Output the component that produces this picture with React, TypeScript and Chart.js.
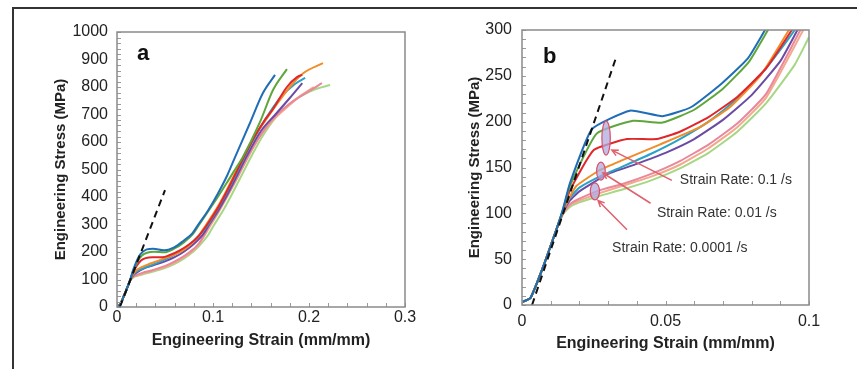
import React, { useEffect, useRef } from "react";
import { Chart, registerables } from "chart.js";
Chart.register(...registerables);

// ---------- data (strain mm/mm, stress MPa) ----------
const BLUE_STRAIN = [0, 0.003, 0.0073, 0.0115, 0.0143, 0.0167, 0.0244, 0.0376, 0.049, 0.059, 0.0697, 0.0787, 0.0847, 0.095, 0.105, 0.115, 0.123, 0.1385, 0.152, 0.1646];
const BLUE_STRESS = [3, 8, 41, 78, 105, 133, 192, 212, 206, 216, 242, 269, 300, 352, 412, 480, 545, 669, 778, 844];

const GREEN_STRAIN = [0, 0.003, 0.0073, 0.0115, 0.0143, 0.0167, 0.026, 0.0387, 0.049, 0.06, 0.07, 0.079, 0.0857, 0.095, 0.105, 0.115, 0.123, 0.131, 0.149, 0.1625, 0.177];
const GREEN_STRESS = [3, 8, 41, 78, 104, 130, 187, 201, 199, 213, 236, 265, 300, 348, 400, 455, 500, 545, 673, 789, 865];

const RED_STRAIN = [0, 0.003, 0.0073, 0.0115, 0.0143, 0.0167, 0.025, 0.0366, 0.047, 0.055, 0.065, 0.075, 0.085, 0.094, 0.105, 0.115, 0.125, 0.135, 0.145, 0.155, 0.1625, 0.177, 0.1875, 0.193];
const RED_STRESS = [3, 8, 41, 78, 103, 125, 169, 181, 181, 189, 205, 227, 258, 300, 360, 425, 495, 565, 630, 685, 720, 800, 836, 844];

const ORANGE_STRAIN = [0, 0.003, 0.0073, 0.0115, 0.0143, 0.0167, 0.019, 0.027, 0.035, 0.048, 0.062, 0.0725, 0.083, 0.093, 0.105, 0.115, 0.125, 0.135, 0.145, 0.155, 0.168, 0.18, 0.194, 0.2146];
const ORANGE_STRESS = [3, 8, 41, 78, 102, 118, 130, 147, 158, 175, 194, 216, 250, 300, 365, 430, 500, 568, 630, 680, 745, 800, 850, 887];

const TEAL_STRAIN = [0, 0.003, 0.0073, 0.0115, 0.0143, 0.0167, 0.02, 0.027, 0.035, 0.045, 0.055, 0.065, 0.075, 0.085, 0.095, 0.105, 0.115, 0.125, 0.14, 0.155, 0.17, 0.185, 0.196];
const TEAL_STRESS = [3, 8, 41, 78, 102, 117, 128, 140, 151, 165, 181, 200, 225, 258, 300, 358, 422, 490, 595, 685, 760, 810, 833];

const PURPLE_STRAIN = [0, 0.003, 0.0073, 0.0115, 0.0143, 0.0167, 0.02, 0.03, 0.04, 0.05, 0.06, 0.07, 0.08, 0.09, 0.096, 0.105, 0.115, 0.125, 0.135, 0.15, 0.165, 0.18, 0.193];
const PURPLE_STRESS = [3, 8, 41, 78, 101, 114, 124, 143, 154, 166, 181, 202, 229, 266, 300, 348, 410, 478, 548, 640, 700, 760, 814];

const PINK_STRAIN = [0, 0.003, 0.0073, 0.0115, 0.0143, 0.0167, 0.02, 0.027, 0.035, 0.045, 0.055, 0.065, 0.075, 0.085, 0.097, 0.105, 0.115, 0.125, 0.135, 0.145, 0.16, 0.18, 0.2, 0.2135];
const PINK_STRESS = [3, 8, 41, 78, 100, 110, 116, 125, 132, 143, 157, 175, 198, 230, 300, 345, 405, 470, 538, 600, 675, 740, 785, 814];

const SALMON_STRAIN = [0, 0.003, 0.0073, 0.0115, 0.0143, 0.0167, 0.02, 0.027, 0.035, 0.045, 0.055, 0.065, 0.075, 0.085, 0.098, 0.107, 0.117, 0.127, 0.137, 0.147, 0.16, 0.175, 0.19, 0.205];
const SALMON_STRESS = [3, 8, 41, 78, 100, 109, 114, 122, 130, 140, 153, 171, 194, 226, 300, 352, 415, 480, 548, 610, 670, 720, 765, 800];

const LIGHTGREEN_STRAIN = [0, 0.003, 0.0073, 0.0115, 0.0143, 0.0167, 0.02, 0.027, 0.035, 0.045, 0.055, 0.065, 0.075, 0.085, 0.095, 0.1, 0.11, 0.12, 0.13, 0.14, 0.15, 0.165, 0.185, 0.205, 0.222];
const LIGHTGREEN_STRESS = [3, 8, 41, 78, 99, 107, 112, 119, 126, 136, 149, 166, 189, 220, 262, 292, 348, 412, 480, 548, 612, 688, 752, 790, 807];

// elastic reference lines (dashed)
const ELASTIC_A_STRAIN = [0.003, 0.05];
const ELASTIC_A_STRESS = [0, 425];
const ELASTIC_B_STRAIN = [0.0035, 0.033];
const ELASTIC_B_STRESS = [0, 272];

// axis ranges
const A_X_RANGE = [0, 0.3];
const A_Y_RANGE = [0, 1000];
const B_X_RANGE = [0, 0.1];
const B_Y_RANGE = [0, 300];

// annotation texts for panel b
const NOTE_TEXTS = ["Strain Rate: 0.1 /s", "Strain Rate: 0.01 /s", "Strain Rate: 0.0001 /s"];

const CURVES = [
  { strain: BLUE_STRAIN, stress: BLUE_STRESS, color: "#1f6db6" },
  { strain: GREEN_STRAIN, stress: GREEN_STRESS, color: "#5ea63b" },
  { strain: RED_STRAIN, stress: RED_STRESS, color: "#e0262b" },
  { strain: ORANGE_STRAIN, stress: ORANGE_STRESS, color: "#f18c2a" },
  { strain: TEAL_STRAIN, stress: TEAL_STRESS, color: "#27a3c6" },
  { strain: PURPLE_STRAIN, stress: PURPLE_STRESS, color: "#6a4ba3" },
  { strain: PINK_STRAIN, stress: PINK_STRESS, color: "#e9879b" },
  { strain: SALMON_STRAIN, stress: SALMON_STRESS, color: "#f4a88e" },
  { strain: LIGHTGREEN_STRAIN, stress: LIGHTGREEN_STRESS, color: "#a6d784" },
];

const FONT = "'Liberation Sans', Arial, sans-serif";

const decorPlugin = {
  id: "decor",
  afterDatasetsDraw(chart: any, _args: any, opts: any) {
    const { ctx, chartArea: a, scales } = chart;
    const xs = scales.x;
    const ys = scales.y;
    ctx.save();
    // minor ticks, inward
    ctx.strokeStyle = "#9a9a9a";
    ctx.lineWidth = 1;
    ctx.beginPath();
    for (let v = xs.min; v <= xs.max + 1e-9; v += opts.xMinor) {
      const px = Math.round(xs.getPixelForValue(v)) + 0.5;
      ctx.moveTo(px, a.bottom);
      ctx.lineTo(px, a.bottom - 4);
    }
    for (let v = ys.min; v <= ys.max + 1e-9; v += opts.yMinor) {
      const py = Math.round(ys.getPixelForValue(v)) + 0.5;
      ctx.moveTo(a.left, py);
      ctx.lineTo(a.left + 4, py);
    }
    ctx.stroke();
    // frame
    ctx.strokeStyle = "#8a8a8a";
    ctx.lineWidth = 1.5;
    ctx.strokeRect(a.left, a.top, a.right - a.left, a.bottom - a.top);
    // panel letter
    ctx.fillStyle = "#111";
    ctx.font = "bold 22px 'Liberation Sans Narrow', 'Liberation Sans', sans-serif";
    ctx.textBaseline = "alphabetic";
    ctx.fillText(opts.letter, a.left + opts.letterDx, a.top + opts.letterDy);

    if (opts.notes) {
      const n = opts.notes;
      n.ellipses.forEach((e: any) => {
        const cx = xs.getPixelForValue(e.x);
        const cy = ys.getPixelForValue(e.y);
        ctx.beginPath();
        ctx.ellipse(cx, cy, e.rx, e.ry, 0, 0, Math.PI * 2);
        ctx.fillStyle = "rgba(176,170,222,0.75)";
        ctx.fill();
        ctx.strokeStyle = "#d9506a";
        ctx.lineWidth = 1.2;
        ctx.stroke();
      });
      n.arrows.forEach((ar: any) => {
        const x1 = xs.getPixelForValue(ar.x1);
        const y1 = ys.getPixelForValue(ar.y1);
        const x2 = xs.getPixelForValue(ar.x2);
        const y2 = ys.getPixelForValue(ar.y2);
        ctx.strokeStyle = "#e0606c";
        ctx.lineWidth = 1.5;
        ctx.beginPath();
        ctx.moveTo(x1, y1);
        ctx.lineTo(x2, y2);
        const ang = Math.atan2(y2 - y1, x2 - x1);
        const L = 7;
        ctx.moveTo(x2 - L * Math.cos(ang - 0.45), y2 - L * Math.sin(ang - 0.45));
        ctx.lineTo(x2, y2);
        ctx.lineTo(x2 - L * Math.cos(ang + 0.45), y2 - L * Math.sin(ang + 0.45));
        ctx.stroke();
      });
      ctx.fillStyle = "#333";
      ctx.font = "14px " + FONT;
      ctx.textBaseline = "middle";
      n.texts.forEach((t: any) => {
        ctx.fillText(t.text, xs.getPixelForValue(t.x), ys.getPixelForValue(t.y));
      });
    }
    ctx.restore();
  },
};

function buildConfig(panel: "a" | "b") {
  const isA = panel === "a";
  const datasets: any[] = [
    {
      data: (isA ? ELASTIC_A_STRAIN : ELASTIC_B_STRAIN).map((s, i) => ({ x: s, y: (isA ? ELASTIC_A_STRESS : ELASTIC_B_STRESS)[i] })),
      borderColor: "#111",
      borderWidth: 2,
      borderDash: [7, 5],
      pointRadius: 0,
      fill: false,
    },
    ...CURVES.map((c) => ({
      data: c.strain.map((s, i) => ({ x: s, y: c.stress[i] })),
      borderColor: c.color,
      borderWidth: 2,
      pointRadius: 0,
      fill: false,
      ...(isA ? { cubicInterpolationMode: "monotone" } : { tension: 0.15 }),
    })),
  ];
  const xr = isA ? A_X_RANGE : B_X_RANGE;
  const yr = isA ? A_Y_RANGE : B_Y_RANGE;
  const notes = isA
    ? null
    : {
        ellipses: [
          { x: 0.0293, y: 182, rx: 4.2, ry: 17 },
          { x: 0.0275, y: 146, rx: 4.3, ry: 9 },
          { x: 0.0254, y: 124, rx: 4.6, ry: 8.5 },
        ],
        arrows: [
          { x1: 0.0522, y1: 136, x2: 0.0313, y2: 169 },
          { x1: 0.0448, y1: 111, x2: 0.0282, y2: 144 },
          { x1: 0.0366, y1: 82, x2: 0.0265, y2: 114 },
        ],
        texts: [
          { text: NOTE_TEXTS[0], x: 0.055, y: 136 },
          { text: NOTE_TEXTS[1], x: 0.047, y: 100 },
          { text: NOTE_TEXTS[2], x: 0.0314, y: 62 },
        ],
      };
  return {
    type: "line",
    data: { datasets },
    plugins: [decorPlugin],
    options: {
      responsive: false,
      animation: false,
      layout: { padding: isA ? { left: 0, right: 23, top: 22, bottom: 0 } : { left: 0, right: 43, top: 20, bottom: 0 } },
      plugins: {
        legend: { display: false },
        tooltip: { enabled: false },
        decor: {
          xMinor: isA ? 0.02 : 0.01,
          yMinor: isA ? 20 : 10,
          letter: panel,
          letterDx: isA ? 20 : 21,
          letterDy: isA ? 28 : 33,
          notes,
        },
      },
      scales: {
        x: {
          type: "linear",
          min: xr[0],
          max: xr[1],
          grid: { display: false, drawTicks: false },
          border: { display: false },
          ticks: {
            stepSize: isA ? 0.1 : 0.05,
            padding: isA ? 1 : 7,
            color: "#222",
            font: { family: FONT, size: 16 },
            maxRotation: 0,
            callback: (v: any) => String(+Number(v).toFixed(3)),
          },
          title: {
            display: true,
            text: "Engineering Strain (mm/mm)",
            color: "#222",
            font: { family: FONT, size: 16, weight: "bold" },
            padding: { top: 0, bottom: isA ? 10 : 7 },
          },
          afterFit: (s: any) => {
            s.height = isA ? 53 : 55;
          },
        },
        y: {
          type: "linear",
          min: yr[0],
          max: yr[1],
          grid: { display: false, drawTicks: false },
          border: { display: false },
          ticks: {
            stepSize: isA ? 100 : 50,
            padding: isA ? 9 : 10,
            color: "#222",
            font: { family: FONT, size: 16 },
            callback: (v: any) => String(v),
          },
          title: {
            display: true,
            text: "Engineering Stress (MPa)",
            color: "#222",
            font: { family: FONT, size: 15, weight: "bold" },
            padding: { top: isA ? 38 : 33.5, bottom: 0 },
          },
          afterFit: (s: any) => {
            s.width = isA ? 103 : 90;
          },
        },
      },
    },
  };
}

function Panel({ panel, left, width }: { panel: "a" | "b"; left: number; width: number }) {
  const ref = useRef<HTMLCanvasElement>(null);
  useEffect(() => {
    if (!ref.current) return;
    const chart = new Chart(ref.current, buildConfig(panel) as any);
    return () => chart.destroy();
  }, [panel]);
  return (
    <canvas
      ref={ref}
      width={width}
      height={350}
      style={{ position: "absolute", left, top: 10, width, height: 350 }}
    />
  );
}

export default function App() {
  return (
    <div style={{ position: "fixed", left: 0, top: 0, width: 857, height: 369, background: "#fff", overflow: "hidden" }}>
      <div
        style={{
          position: "absolute",
          left: 12,
          top: 7,
          width: 845,
          height: 362,
          borderTop: "2px solid #333",
          borderLeft: "2px solid #333",
          boxSizing: "border-box",
        }}
      />
      <Panel panel="a" left={14} width={414} />
      <Panel panel="b" left={432} width={420} />
    </div>
  );
}
